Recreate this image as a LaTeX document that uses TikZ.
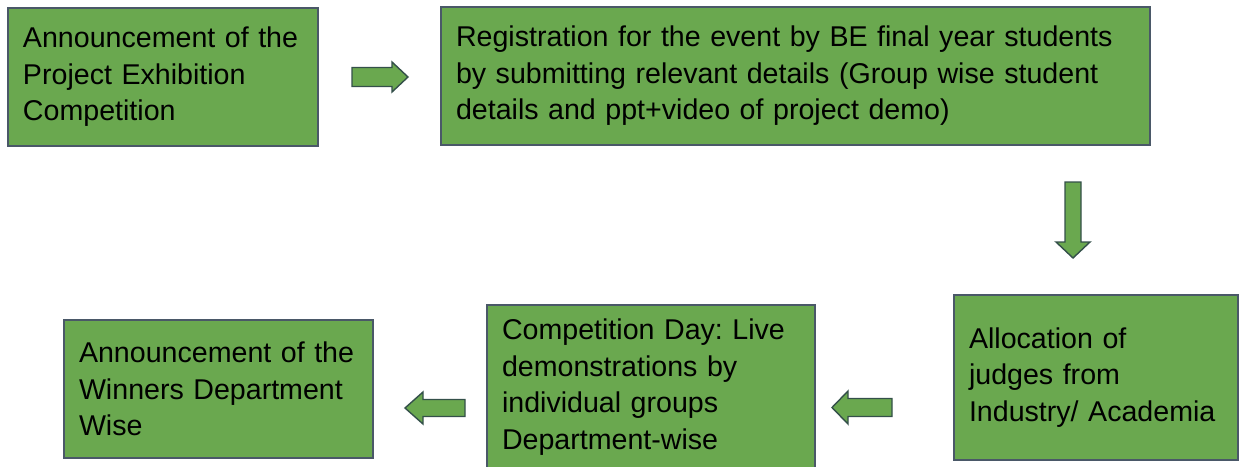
\documentclass[tikz,border=0pt]{standalone}
\usepackage{fontspec}
\setmainfont{Liberation Sans}
\frenchspacing
\definecolor{boxgreen}{HTML}{6AA84F}
\definecolor{boxline}{HTML}{4A5868}
\definecolor{arrline}{HTML}{34504A}
\tikzset{
  stepbox/.style={draw=boxline, line width=1.4pt, fill=boxgreen, rectangle,
    inner xsep=15pt, inner ysep=0pt, align=left, anchor=center,
    font=\fontsize{28.6}{36.5}\selectfont, text=black},
  arrowbox/.style={draw=arrline, line width=1.4pt, fill=boxgreen, line join=miter}
}
\newcommand{\blockarrow}[6]{%
  \draw[arrowbox, shift={(#1)}, rotate=#2]
    (-#3/2,-#4/2) -- (#3/2-#6,-#4/2) -- (#3/2-#6,-#5/2) -- (#3/2,0)
    -- (#3/2-#6,#5/2) -- (#3/2-#6,#4/2) -- (-#3/2,#4/2) -- cycle;}
\begin{document}
\begin{tikzpicture}[x=1pt,y=-1pt]
\useasboundingbox (0,0) rectangle (1239,466);
\node[stepbox, minimum width=310pt, minimum height=138pt, text width=280pt] (b1) at (163,77)
  {Announcement of the\\Project Exhibition\\Competition};
\node[stepbox, minimum width=709pt, minimum height=138pt, text width=679pt] (b2) at (795.5,76)
  {Registration for the event by BE final year students\\by submitting relevant details (Group wise student\\details and ppt+video of project demo)};
\node[stepbox, minimum width=282pt, minimum height=165pt, text width=254pt] (b3) at (1096,377.5)
  {Allocation of\\judges from\\Industry/ Academia};
\node[stepbox, minimum width=328pt, minimum height=164pt, text width=298pt] (b4) at (651,387)
  {Competition Day: Live\\demonstrations by\\individual groups\\Department-wise};
\node[stepbox, minimum width=309pt, minimum height=138pt, text width=279pt] (b5) at (218.5,389)
  {Announcement of the\\Winners Department\\Wise};
\coordinate (a12) at (380,77);
\coordinate (a23) at (1073,220);
\coordinate (a34) at (862,407.5);
\coordinate (a45) at (435,408);
\blockarrow{a12}{0}{56}{19}{30}{16}
\blockarrow{a23}{-90}{76}{16}{34}{16}
\blockarrow{a34}{180}{60}{18}{33}{16}
\blockarrow{a45}{180}{60}{17}{32}{18}
\end{tikzpicture}
\end{document}
